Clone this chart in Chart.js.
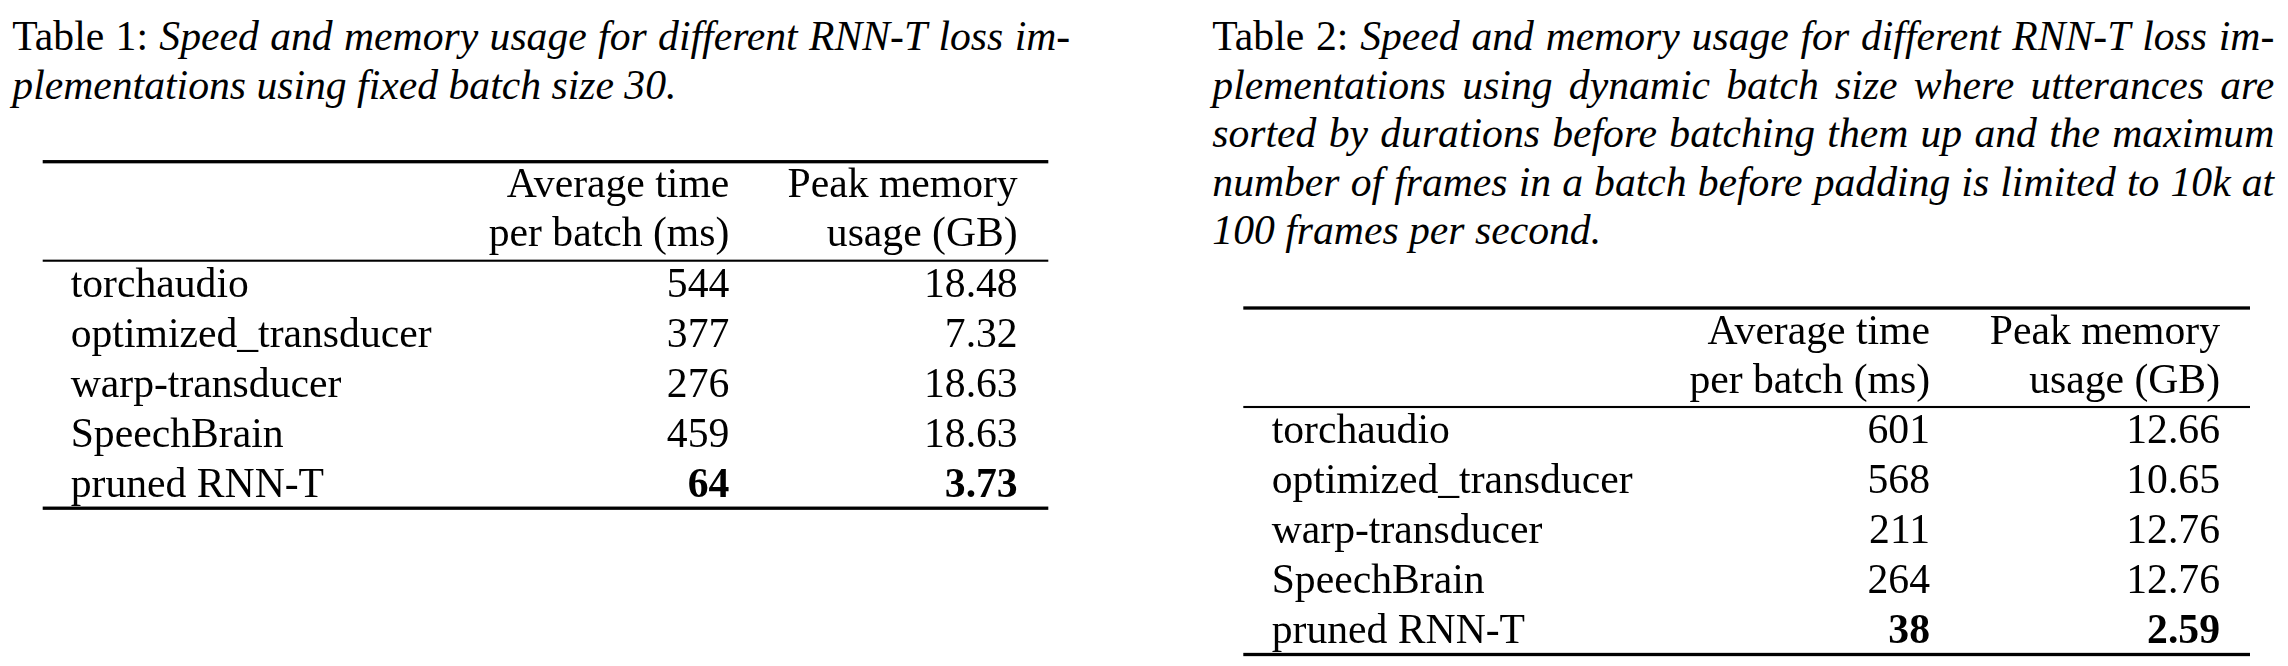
<!DOCTYPE html>
<html>
<head>
<meta charset="utf-8">
<title>RNN-T loss speed and memory</title>
<script src="https://cdn.jsdelivr.net/npm/chart.js@4.4.1/dist/chart.umd.min.js"></script>
<style>
  html, body { margin: 0; padding: 0; background: #fff; }
  body { width: 2288px; height: 666px; position: relative; overflow: hidden; }
  .caption {
    position: absolute;
    top: 12.1px;
    font-family: "Liberation Serif", "Times New Roman", serif;
    font-size: 41.67px;
    line-height: 48.6px;
    color: #000;
    font-style: italic;
  }
  .caption .line { display: flex; justify-content: space-between; white-space: nowrap; }
  .caption .line.last { display: block; }
  .caption .up { font-style: normal; }
  .tbl { position: absolute; }
</style>
</head>
<body>
<div class="caption" id="cap1" style="left:12.3px;width:1058px"></div>
<div class="caption" id="cap2" style="left:1212.3px;width:1062px"></div>
<div class="tbl" style="left:0;top:140px;width:1110px;height:390px"><canvas id="table1" width="1110" height="390"></canvas></div>
<div class="tbl" style="left:1200px;top:290px;width:1088px;height:376px"><canvas id="table2" width="1088" height="376"></canvas></div>
<script>
// --- data ---
const implementations = ['torchaudio', 'optimized_transducer', 'warp-transducer', 'SpeechBrain', 'pruned RNN-T'];
const columnHeaders = [['Average time', 'per batch (ms)'], ['Peak memory', 'usage (GB)']];
const columnDecimals = [0, 2];

// Table 1: fixed batch size 30
const fixedTimeMs = [544, 377, 276, 459, 64];
const fixedMemoryGb = [18.48, 7.32, 18.63, 18.63, 3.73];

// Table 2: dynamic batch size
const dynamicTimeMs = [601, 568, 211, 264, 38];
const dynamicMemoryGb = [12.66, 10.65, 12.76, 12.76, 2.59];

const caption1 = [
  'Table 1: Speed and memory usage for different RNN-T loss im-',
  'plementations using fixed batch size 30.'
];
const caption2 = [
  'Table 2: Speed and memory usage for different RNN-T loss im-',
  'plementations using dynamic batch size where utterances are',
  'sorted by durations before batching them up and the maximum',
  'number of frames in a batch before padding is limited to 10k at',
  '100 frames per second.'
];

/**
 * Justified caption lines ("Table N:" upright, rest italic)
 */
function buildCaption(el, lines) {
  lines.forEach((text, li) => {
    const line = document.createElement('div');
    const last = li === lines.length - 1;
    line.className = last ? 'line last' : 'line';
    const words = text.split(' ');
    words.forEach((w, wi) => {
      const span = document.createElement('span');
      span.textContent = last && wi < words.length - 1 ? w + ' ' : w;
      if (li === 0 && wi < 2) span.className = 'up';
      line.appendChild(span);
    });
    el.appendChild(line);
  });
}

buildCaption(document.getElementById('cap1'), caption1);
buildCaption(document.getElementById('cap2'), caption2);

const FONT = '"Liberation Serif", "Times New Roman", serif';

/**
 * Draws the booktabs-style table on top of the (invisible) bar layout.
 * Rows come from the y category scale, cell values from the bar elements.
 */
const tablePlugin = {
  id: 'tablePlugin',
  afterDraw(chart, args, opts) {
    const { ctx, chartArea } = chart;
    const yScale = chart.scales.y;
    const top = chartArea.top;

    ctx.save();
    ctx.fillStyle = '#000';

    // rules
    const rule = (y, w) => ctx.fillRect(opts.ruleX[0], y - w / 2, opts.ruleX[1] - opts.ruleX[0], w);
    rule(top - 99, 3.3);
    rule(top, 2.1);
    rule(chartArea.bottom - 2.5, 3.3);

    // header
    ctx.font = '41.67px ' + FONT;
    ctx.textBaseline = 'alphabetic';
    ctx.textAlign = 'right';
    opts.headers.forEach((lines, c) => {
      ctx.fillText(lines[0], opts.colRight[c], top - 63.5);
      ctx.fillText(lines[1], opts.colRight[c], top - 14.5);
    });

    // row labels
    ctx.textAlign = 'left';
    chart.data.labels.forEach((name, i) => {
      ctx.fillText(name, opts.labelX, yScale.getPixelForValue(i) + opts.baselineShift);
    });

    // cells, best (lowest) value in bold
    ctx.textAlign = 'right';
    chart.data.datasets.forEach((ds, d) => {
      const best = Math.min(...ds.data);
      chart.getDatasetMeta(d).data.forEach((bar, i) => {
        const v = ds.data[i];
        ctx.font = (v === best ? 'bold ' : '') + '41.67px ' + FONT;
        ctx.fillText(v.toFixed(opts.decimals[d]), opts.colRight[d], bar.y + opts.baselineShift);
      });
    });
    ctx.restore();
  }
};

function createTable(canvasId, timeMs, memoryGb, layout) {
  const canvas = document.getElementById(canvasId);
  return new Chart(canvas, {
    type: 'bar',
    data: {
      labels: implementations,
      datasets: [
        { label: columnHeaders[0].join(' '), data: timeMs, backgroundColor: 'transparent', borderWidth: 0, grouped: false },
        { label: columnHeaders[1].join(' '), data: memoryGb, backgroundColor: 'transparent', borderWidth: 0, grouped: false }
      ]
    },
    options: {
      indexAxis: 'y',
      responsive: false,
      animation: false,
      events: [],
      layout: {
        padding: { top: layout.ruleTop + 99, bottom: canvas.height - layout.ruleTop - 349, left: 0, right: 0 }
      },
      scales: {
        x: { display: false, beginAtZero: true },
        y: { display: false, offset: true }
      },
      plugins: {
        legend: { display: false },
        tooltip: { enabled: false },
        tablePlugin: {
          headers: columnHeaders,
          decimals: columnDecimals,
          labelX: layout.labelX,
          colRight: layout.colRight,
          ruleX: layout.ruleX,
          baselineShift: 11
        }
      }
    },
    plugins: [tablePlugin]
  });
}

createTable('table1', fixedTimeMs, fixedMemoryGb, {
  ruleTop: 21.7, ruleX: [42.7, 1048.3], labelX: 70.7, colRight: [729.3, 1017.7]
});
createTable('table2', dynamicTimeMs, dynamicMemoryGb, {
  ruleTop: 18, ruleX: [43.3, 1050], labelX: 71.7, colRight: [730, 1020]
});
</script>
</body>
</html>
